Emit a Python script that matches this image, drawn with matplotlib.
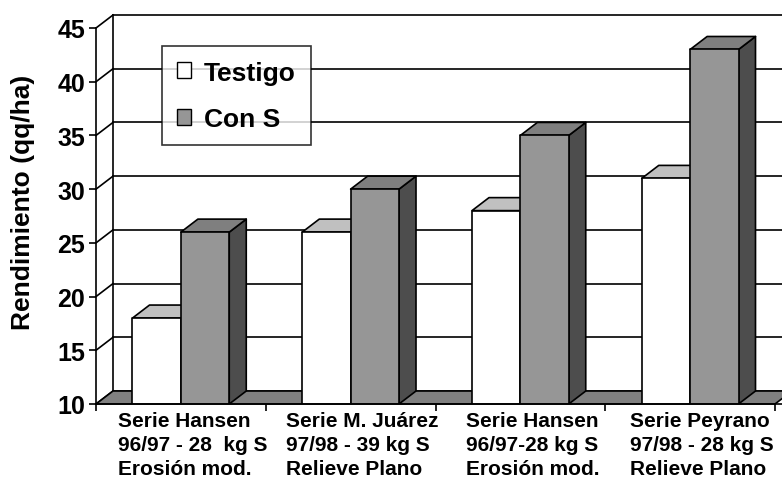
import matplotlib
matplotlib.use("Agg")
import matplotlib.pyplot as plt
from matplotlib.patches import Polygon, Rectangle

# ---------------- data ----------------
categories = [
    "Serie Hansen\n96/97 - 28  kg S\nErosión mod.",
    "Serie M. Juárez\n97/98 - 39 kg S\nRelieve Plano",
    "Serie Hansen\n96/97-28 kg S\nErosión mod.",
    "Serie Peyrano\n97/98 - 28 kg S\nRelieve Plano",
]
testigo = [18, 26, 28, 31]
con_s = [26, 30, 35, 43]
series_names = ["Testigo", "Con S"]
yticks = [10, 15, 20, 25, 30, 35, 40, 45]
ylabel = "Rendimiento (qq/ha)"

# ---------------- style ----------------
plt.rcParams['font.family'] = ['Liberation Sans', 'DejaVu Sans']
plt.rcParams['font.weight'] = 'bold'

W, H = 782, 481
fig = plt.figure(figsize=(W / 100, H / 100), dpi=100)
# axes region in pixels
left_px, right_px, bottom_px, top_px = 96, 782, 405, 14
ax = fig.add_axes([left_px / W, 1 - bottom_px / H,
                   (right_px - left_px) / W, (bottom_px - top_px) / H])

ymin, ymax = yticks[0], yticks[-1]
px_per_cat = (775 - 96) / len(categories)
px_per_unit = (405 - 29) / (ymax - ymin)
xmax = (right_px - left_px) / px_per_cat
ytop = ymin + (bottom_px - top_px) / px_per_unit
ax.set_xlim(0, xmax)
ax.set_ylim(ymin, ytop)

dx = 17 / px_per_cat       # depth offset in category units
dy = 13 / px_per_unit      # depth offset in value units
ncat = len(categories)

lw = 1.2
edge = 'black'
white_front, white_top = '#ffffff', '#c0c0c0'
gray_front, gray_top, gray_side = '#969696', '#7f7f7f', '#4d4d4d'
floor_col = '#808080'

# back wall gridlines
for v in yticks:
    ax.plot([dx, xmax + 1], [v + dy, v + dy], color=edge, lw=lw, zorder=1, clip_on=False)
    # left wall diagonals
    ax.plot([0, dx], [v, v + dy], color=edge, lw=lw, zorder=1, clip_on=False)
ax.plot([dx, dx], [ymin + dy, ymax + dy], color=edge, lw=lw, zorder=1)

# floor
ax.add_patch(Polygon([(0, ymin), (ncat, ymin), (ncat + dx, ymin + dy), (dx, ymin + dy)],
                     closed=True, facecolor=floor_col, edgecolor=edge, lw=lw, zorder=2,
                     clip_on=False))

bw = 0.285
offsets = [0.215, 0.5]
fronts = [white_front, gray_front]
tops = [white_top, gray_top]
sides = [white_top, gray_side]


def draw_bar(x0, v, fc, tc, sc):
    ax.add_patch(Polygon([(x0 + bw, ymin), (x0 + bw + dx, ymin + dy),
                          (x0 + bw + dx, v + dy), (x0 + bw, v)],
                         facecolor=sc, edgecolor=edge, lw=lw, zorder=3, joinstyle='round'))
    ax.add_patch(Polygon([(x0, v), (x0 + dx, v + dy), (x0 + bw + dx, v + dy), (x0 + bw, v)],
                         facecolor=tc, edgecolor=edge, lw=lw, zorder=3, joinstyle='round'))
    ax.add_patch(Rectangle((x0, ymin), bw, v - ymin, facecolor=fc, edgecolor=edge,
                           lw=lw, zorder=3, joinstyle='round'))


for i in range(ncat):
    for s, vals in enumerate([testigo, con_s]):
        draw_bar(i + offsets[s], vals[i], fronts[s], tops[s], sides[s])

# axes / spines
for sp in ['top', 'right']:
    ax.spines[sp].set_visible(False)
ax.spines['left'].set_bounds(ymin, ymax)
ax.spines['bottom'].set_bounds(0, xmax)
ax.spines['left'].set_linewidth(lw)
ax.spines['bottom'].set_linewidth(lw)
ax.spines['left'].set_zorder(4)
ax.spines['bottom'].set_zorder(4)

ax.set_yticks(yticks)
ax.set_yticklabels([str(t) for t in yticks], fontsize=18, fontweight='bold')
ax.tick_params(axis='y', direction='out', length=5, width=lw, pad=3)

label_shift = 0.07  # category label block sits slightly right of centre
ax.set_xticks(range(ncat + 1))
ax.set_xticklabels([])
ax.set_xticks([i + 0.5 + label_shift for i in range(ncat)], minor=True)
ax.set_xticklabels(categories, minor=True, fontsize=15, fontweight='bold',
                   multialignment='left', linespacing=1.33)
ax.tick_params(axis='x', which='major', direction='out', length=5, width=lw)
ax.tick_params(axis='x', which='minor', length=0, pad=5)
for lab in ax.get_xticklabels(minor=True):
    lab.set_ha('center')

ax.set_ylabel(ylabel, fontsize=19, fontweight='bold')
ax.yaxis.set_label_coords(-0.089, 0.517)

# legend
handles = [Rectangle((0, 0), 1, 1, facecolor=white_front, edgecolor=edge, lw=1),
           Rectangle((0, 0), 1, 1, facecolor=gray_front, edgecolor=edge, lw=1)]
leg = fig.legend(handles, series_names, loc='upper left',
                 bbox_to_anchor=(162 / W, 1 - 47 / H), bbox_transform=fig.transFigure,
                 prop={'size': 19, 'weight': 'bold'}, frameon=True, fancybox=False,
                 shadow=False, borderaxespad=0, handlelength=0.55, handleheight=0.55,
                 handletextpad=0.5, labelspacing=0.85, borderpad=0.55)
leg.get_frame().set_edgecolor(edge)
leg.get_frame().set_linewidth(lw)
leg.get_frame().set_facecolor('white')
leg.set_zorder(10)

fig.savefig("out.png", dpi=100)
